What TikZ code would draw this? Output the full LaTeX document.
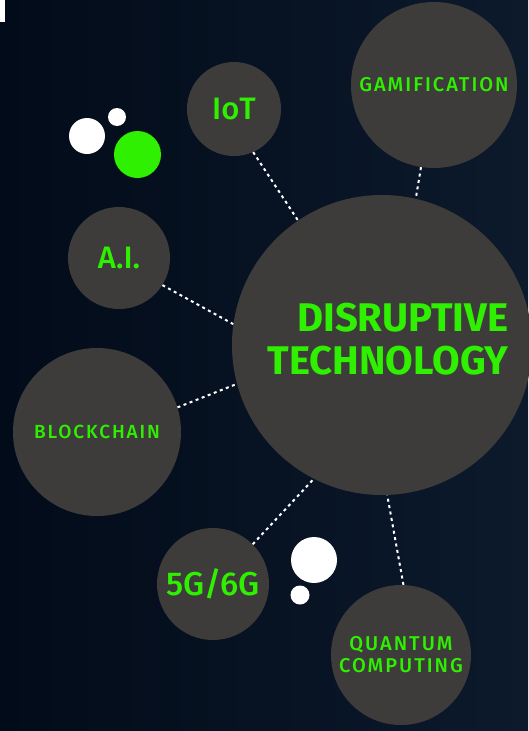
\documentclass[tikz,border=0pt]{standalone}
\usepackage{fontspec}
\setmainfont{Fira Sans}
\newfontfamily\midfont{Fira Sans Medium}
\newfontfamily\spacedfont[LetterSpace=10]{Fira Sans Medium}
\definecolor{night}{HTML}{020B19}
\definecolor{dusk}{HTML}{0C1A2C}
\definecolor{disc}{HTML}{3E3C3B}
\definecolor{neon}{HTML}{2EF000}
\begin{document}
\begin{tikzpicture}[x=1pt,y=-1pt,
    bubble/.style={circle,fill=disc,inner sep=0pt,text=neon,align=center},
    link/.style={white,line width=2pt,dash pattern=on 3pt off 3.5pt}]
  \path[use as bounding box,left color=night,right color=dusk] (0,0) rectangle (528,731);
  \fill[white] (0,0) rectangle (5,22);
  \draw
    (382,345) node[bubble,minimum size=300pt,
      label={[text=neon,align=right,xshift=6pt,yshift=6pt,font=\bfseries\fontsize{40}{43}\selectfont]center:{DISRUPTIVE\\TECHNOLOGY}}] (core){}
    (434,85) node[bubble,minimum size=166pt,font=\spacedfont\fontsize{20}{22}\selectfont] (gamification){GAMIFICATION}
    (234,109) node[bubble,minimum size=94pt,font=\midfont\fontsize{31}{33}\selectfont] (iot){IoT}
    (119,258) node[bubble,minimum size=102pt,font=\midfont\fontsize{31}{33}\selectfont] (ai){A.I.}
    (97,432) node[bubble,minimum size=168pt,font=\spacedfont\fontsize{19}{21}\selectfont] (blockchain){BLOCKCHAIN}
    (213,584) node[bubble,minimum size=112pt,font=\midfont\fontsize{33}{36}\selectfont] (net){5G/6G}
    (401,655) node[bubble,minimum size=140pt,font=\spacedfont\fontsize{20}{22}\selectfont] (quantum){QUANTUM\\COMPUTING};
  \begin{scope}[link]
    \draw (iot.294) to (core.124);
    \draw (gamification.261) to (core.77);
    \draw (ai.328) to (core.172);
    \draw (blockchain.17) to (core.195);
    \draw (net.45) to (core.243);
    \draw (quantum.88) to (core.272);
  \end{scope}
  % loose bubbles
  \fill[white] (87,136) circle (18pt) (117,117) circle (9pt)
    (314,560) circle (23pt) (300,595) circle (9.5pt);
  \fill[neon] (137.5,154.5) circle (23.5pt);
\end{tikzpicture}
\end{document}
